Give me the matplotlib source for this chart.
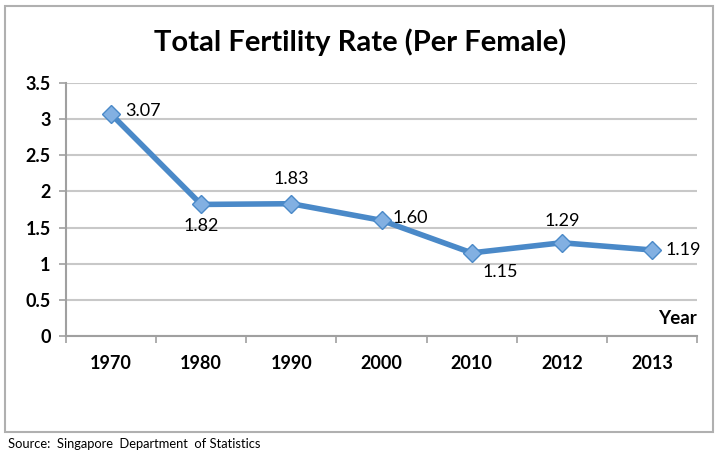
import matplotlib.pyplot as plt
from matplotlib.patches import Rectangle

# Data
years = ["1970", "1980", "1990", "2000", "2010", "2012", "2013"]
tfr = [3.07, 1.82, 1.83, 1.60, 1.15, 1.29, 1.19]
value_labels = ["3.07", "1.82", "1.83", "1.60", "1.15", "1.29", "1.19"]
y_ticks = [0, 0.5, 1, 1.5, 2, 2.5, 3, 3.5]
y_tick_labels = ["0", "0.5", "1", "1.5", "2", "2.5", "3", "3.5"]

plt.rcParams['font.family'] = ['Lato', 'DejaVu Sans']

fig = plt.figure(figsize=(7.2, 4.62), dpi=100)
ax = fig.add_axes([66 / 720, 1 - 336 / 462, (697 - 66) / 720, (336 - 83) / 462])

# outer frame
fig.patches.append(Rectangle((5 / 720, 1 - 432 / 462), 708 / 720, 426 / 462,
                             transform=fig.transFigure, fill=False,
                             edgecolor='#b0b0b0', linewidth=1.5))

x = list(range(len(years)))
ax.plot(x, tfr, color='#4a89c8', linewidth=4, marker='D', markersize=9,
        markerfacecolor='#82b0e2', markeredgecolor='#4a89c8', markeredgewidth=1,
        zorder=3)

# value labels: (dx points, dy points, ha, va)
offsets = [(10, 2, 'left', 'center'), (0, -10, 'center', 'top'),
           (0, 12, 'center', 'bottom'), (8, 2, 'left', 'center'),
           (8, -8, 'left', 'top'), (0, 10, 'center', 'bottom'),
           (10, 0, 'left', 'center')]
for xi, yi, lab, (dx, dy, ha, va) in zip(x, tfr, value_labels, offsets):
    ax.annotate(lab, (xi, yi), xytext=(dx, dy), textcoords='offset points',
                ha=ha, va=va, fontsize=13, color='black')

ax.set_xlim(-0.5, len(years) - 0.5)
ax.set_ylim(0, 3.5)
ax.set_yticks(y_ticks)
ax.set_yticklabels(y_tick_labels, fontsize=13, fontweight='bold')
ax.set_xticks(x)
ax.set_xticklabels(years, fontsize=13, fontweight='bold')
ax.tick_params(axis='x', length=0, pad=14)
ax.set_xticks([i + 0.5 for i in range(-1, len(years))], minor=True)
ax.tick_params(axis='x', which='minor', length=5, color='#a0a0a0', width=1.2)
ax.tick_params(axis='y', length=5, color='#a0a0a0', width=1.2, pad=6)

ax.grid(axis='y', color='#c8c8c8', linewidth=1.5)
ax.set_axisbelow(True)
for side in ['top', 'right']:
    ax.spines[side].set_visible(False)
ax.spines['left'].set_color('#a0a0a0')
ax.spines['bottom'].set_color('#a0a0a0')
ax.spines['left'].set_linewidth(1.5)
ax.spines['bottom'].set_linewidth(1.5)

ax.text(1.0, 0.035, "Year", transform=ax.transAxes, ha='right', va='bottom',
        fontsize=13.5, fontweight='bold')

fig.text(0.5, 1 - 42 / 462, "Total Fertility Rate (Per Female)", ha='center',
         va='center', fontsize=21, fontweight='bold')
fig.text(8 / 720, 1 - 444 / 462, "Source:  Singapore  Department  of Statistics",
         ha='left', va='center', fontsize=9.3)

fig.savefig("out.png", dpi=100)
